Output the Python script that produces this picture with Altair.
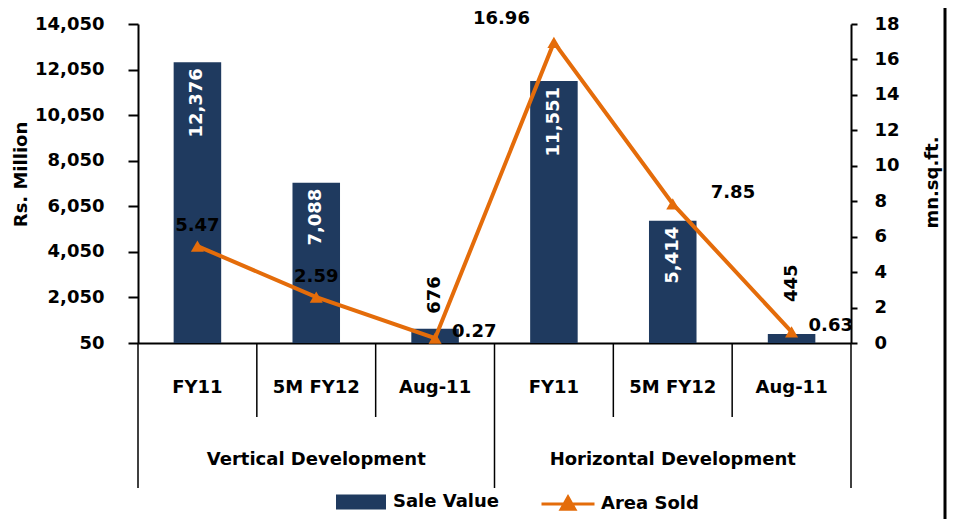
import altair as alt
import pandas as pd

groups = ["Vertical Development", "Horizontal Development"]
periods = ["FY11", "5M FY12", "Aug-11"]
sale_value = [12376, 7088, 676, 11551, 5414, 445]
area_sold = [5.47, 2.59, 0.27, 16.96, 7.85, 0.63]
left_ticks = [50, 2050, 4050, 6050, 8050, 10050, 12050, 14050]
right_ticks = [0, 2, 4, 6, 8, 10, 12, 14, 16, 18]
series = ["Sale Value", "Area Sold"]

keys = [f"{g}|{p}" for g in groups for p in periods]

W, H = 713, 319
NAVY = "#1F3A5F"
ORANGE = "#E46C0A"
FONT = "DejaVu Sans"
FS = 18

df = pd.DataFrame({"key": keys, "sale": sale_value, "area": area_sold,
                   "s1": series[0], "s2": series[1]})


def xenc(band_pos=None):
    kw = {}
    if band_pos is not None:
        kw["bandPosition"] = band_pos
    return alt.X(
        "key:N", sort=keys,
        scale=alt.Scale(domain=keys, paddingInner=0, paddingOuter=0),
        axis=alt.Axis(title=None, labelExpr="split(datum.value, '|')[1]", labelAngle=0,
                      ticks=False, domainColor="black", domainWidth=2,
                      labelFont=FONT, labelFontSize=FS, labelFontWeight="bold",
                      labelColor="black", labelPadding=44, labelBaseline="middle"),
        **kw)


yL = alt.Y("sale:Q", scale=alt.Scale(domain=[50, 14050], zero=False, nice=False),
           axis=alt.Axis(orient="left", values=left_ticks, format=",.0f", title="Rs. Million",
                         grid=False, domainColor="black", domainWidth=2, tickColor="black",
                         tickWidth=2, tickSize=10, labelPadding=24, labelFont=FONT,
                         labelFontSize=FS, labelFontWeight="bold", labelColor="black",
                         titleFont=FONT, titleFontSize=FS, titleFontWeight="bold",
                         titleColor="black", titleX=-117, titleY=150, titleAngle=270,
                         titleBaseline="middle", titleAlign="center"))

yR = alt.Y("area:Q", scale=alt.Scale(domain=[0, 18], nice=False, zero=True),
           axis=alt.Axis(orient="right", values=right_ticks, format="d", title="mn.sq.ft.",
                         grid=False, domainColor="black", domainWidth=2, tickColor="black",
                         tickWidth=2, tickSize=6, labelPadding=17, labelFont=FONT,
                         labelFontSize=FS, labelFontWeight="bold", labelColor="black",
                         titleFont=FONT, titleFontSize=FS, titleFontWeight="bold",
                         titleColor="black", titleX=81, titleY=158, titleAngle=270,
                         titleBaseline="middle", titleAlign="center"))

base = alt.Chart(df)

bars = base.mark_bar(width=alt.RelativeBandSize(0.4)).encode(
    x=xenc(), y=yL, y2=alt.Y2(datum=50),
    color=alt.Color("s1:N", scale=alt.Scale(domain=[series[0]], range=[NAVY]),
                    legend=alt.Legend(title=None, orient="none", legendX=198, legendY=453,
                                      symbolType="M-1,-0.3H1V0.3H-1Z", symbolSize=2500,
                                      symbolStrokeWidth=0, labelFont=FONT, labelFontSize=FS,
                                      labelFontWeight="bold", labelColor="black",
                                      labelOffset=7, padding=0)))

bar_in = base.mark_text(angle=270, align="right", baseline="middle", dx=-6, color="white",
                        font=FONT, fontSize=FS, fontWeight="bold").encode(
    x=xenc(), y=yL, text=alt.Text("sale:Q", format=",")).transform_filter("datum.sale >= 1000")


def bar_out(keys_sel, dx):
    return base.mark_text(angle=270, align="left", baseline="middle", dx=dx, color="black",
                          font=FONT, fontSize=FS, fontWeight="bold").encode(
        x=xenc(), y=yL, text=alt.Text("sale:Q", format=",")
    ).transform_filter(alt.FieldOneOfPredicate(field="key", oneOf=keys_sel))


left = alt.layer(bars, bar_in, bar_out([keys[2]], 15), bar_out([keys[5]], 32))

line = base.mark_line(color=ORANGE, strokeWidth=4).encode(
    x=xenc(), y=yR,
    stroke=alt.Stroke("s2:N", scale=alt.Scale(domain=[series[1]], range=[ORANGE]),
                      legend=alt.Legend(title=None, orient="none", legendX=402, legendY=452,
                                        symbolType="M-1,0H1M0,-0.26L0.26,0.2H-0.26Z",
                                        symbolSize=2809, symbolStrokeWidth=3,
                                        symbolFillColor=ORANGE, labelFont=FONT,
                                        labelFontSize=FS, labelFontWeight="bold",
                                        labelColor="black", labelOffset=5, padding=0)))

pts = base.mark_point(shape="triangle-up", filled=True, size=170, color=ORANGE, opacity=1).encode(
    x=xenc(), y=yR)


def lab(keys_sel, **kw):
    return base.mark_text(color="black", font=FONT, fontSize=FS, fontWeight="bold", **kw).encode(
        x=xenc(), y=yR, text=alt.Text("area:Q", format=".2f")
    ).transform_filter(alt.FieldOneOfPredicate(field="key", oneOf=keys_sel))


lab_above = lab([keys[0], keys[1]], align="center", baseline="middle", dy=-20)
lab_right = lab([keys[2], keys[5]], align="left", baseline="middle", dx=17, dy=-6)
lab_785 = lab([keys[4]], align="left", baseline="middle", dx=38, dy=-11)
lab_1696 = lab([keys[3]], align="right", baseline="middle", dx=-24, dy=-23)

right = alt.layer(line, pts, lab_above, lab_right, lab_785, lab_1696)

sep_short = alt.Chart(pd.DataFrame({"key": [keys[1], keys[2], keys[4], keys[5]]})).mark_rule(
    color="black", strokeWidth=1.5).encode(x=xenc(0), y=alt.value(H), y2=alt.value(H + 74))
sep_long = alt.Chart(pd.DataFrame({"key": [keys[0], keys[3]]})).mark_rule(
    color="black", strokeWidth=1.5).encode(x=xenc(0), y=alt.value(H), y2=alt.value(H + 145))
sep_end = alt.Chart(pd.DataFrame({"key": [keys[5]]})).mark_rule(
    color="black", strokeWidth=1.5).encode(x=xenc(1), y=alt.value(H), y2=alt.value(H + 145))

grp = alt.Chart(pd.DataFrame({"key": [keys[1], keys[4]], "label": groups})).mark_text(
    font=FONT, fontSize=FS, fontWeight="bold", color="black", baseline="middle").encode(
    x=xenc(), y=alt.value(H + 117), text="label:N")

border = alt.Chart(pd.DataFrame({"a": [0]})).mark_rule(color="black", strokeWidth=3).encode(
    x=alt.value(807), y=alt.value(-24), y2=alt.value(H + 180))

deco = alt.layer(sep_short, sep_long, sep_end, grp, border)

chart = alt.layer(left, right, deco).resolve_scale(y="independent").properties(
    width=W, height=H, autosize=alt.AutoSizeParams(type="none"),
    padding={"left": 130, "top": 16, "right": 96, "bottom": 176}
).configure(font=FONT).configure_view(stroke=None)

chart.save("out.html", embed_options={"renderer": "svg", "actions": False})
